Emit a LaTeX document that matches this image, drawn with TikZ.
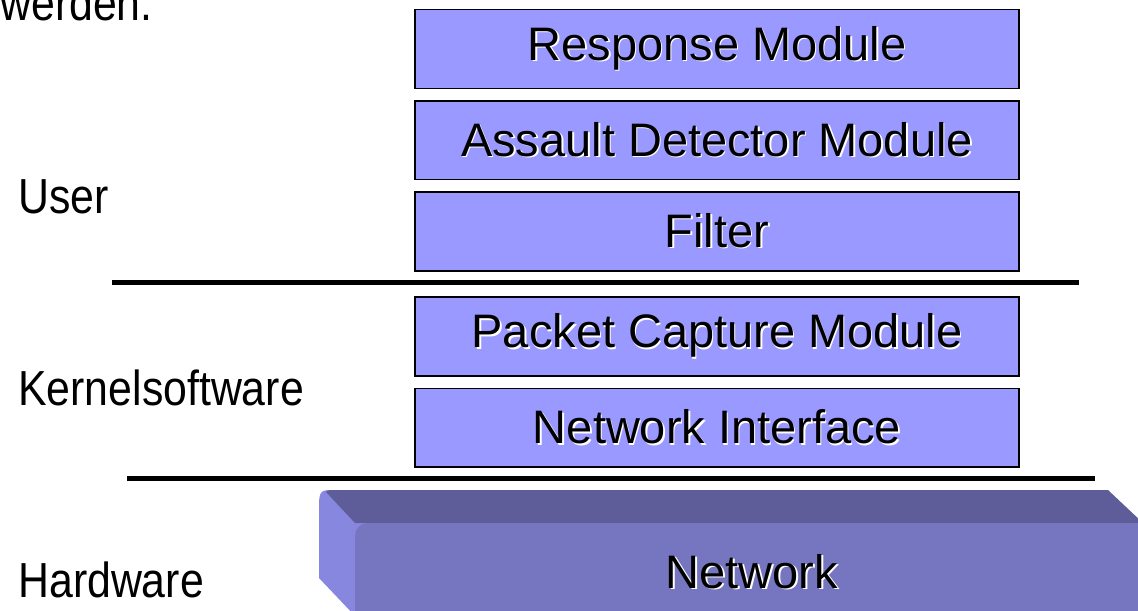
\documentclass[tikz,border=0pt]{standalone}
\usepackage{fontspec}
\setmainfont{Liberation Sans}
\newfontfamily\narrowfont{Liberation Sans}[FakeStretch=0.87]
\usetikzlibrary{positioning}
\newcommand*{\shadowed}[1]{\makebox[0pt][l]{\raisebox{-1.1pt}{\hspace*{1.1pt}\textcolor{white}{#1}}}#1}
\definecolor{modfill}{RGB}{153,153,255}
\definecolor{slabtop}{RGB}{94,92,153}
\definecolor{slabfront}{RGB}{118,117,192}
\definecolor{slabside}{RGB}{136,135,224}
\tikzstyle{module} = [draw, fill=modfill, line width=1.1pt, rectangle, minimum width=15.1cm, minimum height=1.97cm, inner sep=0pt, font=\fontsize{33.4}{36}\selectfont]
\tikzstyle{layer} = [anchor=base west, inner sep=0pt, font=\narrowfont\fontsize{35}{38}\selectfont]
\tikzstyle{divider} = [line width=3.6pt]

\begin{document}
\begin{tikzpicture}[x=0.025cm, y=-0.025cm, node distance=0.27cm]
    \useasboundingbox (0,0) rectangle (1138,611);

    % Modules.
    \node (response) [module] at (717,49) {\shadowed{Response Module}};
    \node (detector) [module, below=of response] {\shadowed{Assault Detector Module}};
    \node (filter) [module, below=of detector] {\shadowed{Filter}};
    \node (capture) [module, below=0.62cm of filter] {\shadowed{Packet Capture Module}};
    \node (iface) [module, below=of capture] {\shadowed{Network Interface}};

    % Layer names.
    \node (werden) [layer] at (0,21) {werden.};
    \node (user) [layer] at (18,213) {User};
    \node (kernel) [layer] at (18,405) {Kernelsoftware};
    \node (hardware) [layer] at (18,597) {Hardware};

    % Dividers.
    \draw [divider] (112,282.5) -- (1079,282.5);
    \draw [divider] (127,478.5) -- (1095,478.5);

    % Network slab.
    \begin{scope}
        \clip (0,0) rectangle (1138,611);
        \fill [slabside] (319,505) .. controls (319,490) and (322,490) .. (334,490) -- (370,523) -- (355,616) -- (319,578) -- cycle;
        \fill [slabtop] (326,492) .. controls (329,490) .. (334,490) -- (1108,490) -- (1143,523) -- (355,523) -- cycle;
        \fill [slabfront, rounded corners=9] (355,650) rectangle (1150,523);
    \end{scope}
    \node (network) [font=\fontsize{33.4}{36}\selectfont, inner sep=0pt] at (752,572) {\shadowed{Network}};
\end{tikzpicture}
\end{document}
